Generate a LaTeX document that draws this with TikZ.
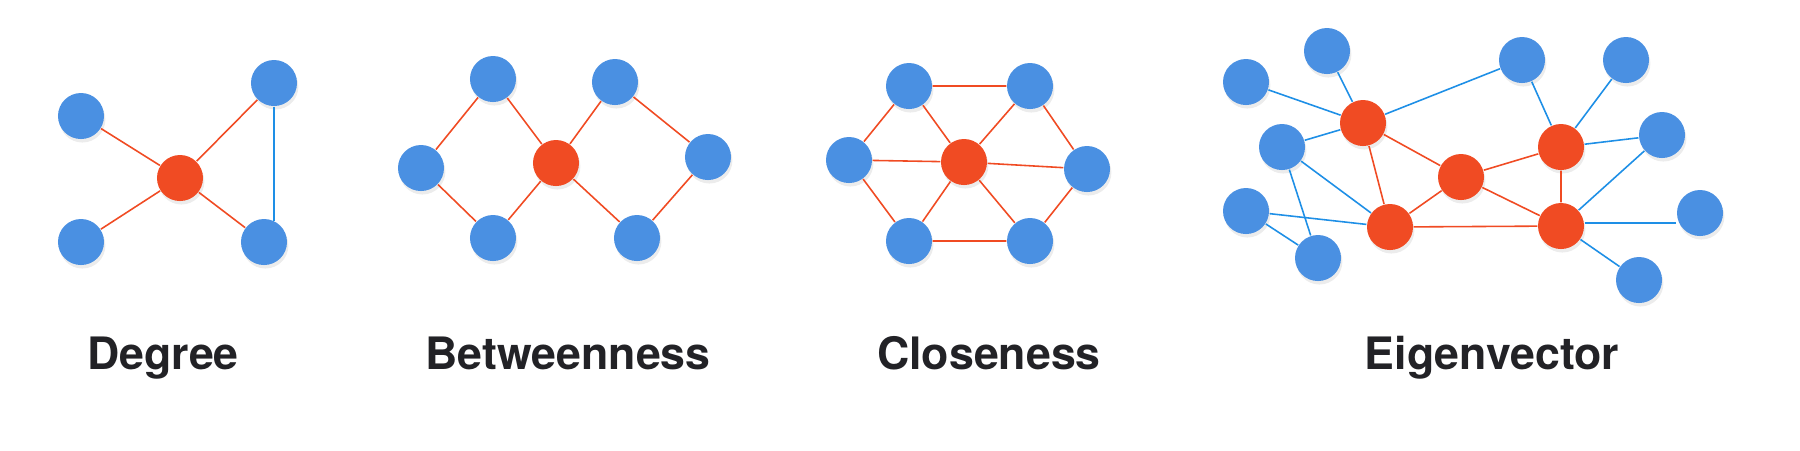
\documentclass[tikz,border=0pt]{standalone}
\usepackage{fontspec}
\newfontfamily\capfont{TeX Gyre Heros}
\usetikzlibrary{shadows}
\definecolor{nodeblue}{HTML}{4A90E2}
\definecolor{nodered}{HTML}{F04B23}
\definecolor{lineblue}{HTML}{1E8FE6}
\definecolor{textdark}{HTML}{222226}
\tikzset{
    %Define style for red links
    rlin/.style={
           draw=nodered,
           line width=0.45pt},
    %Define style for blue links
    blin/.style={
           draw=lineblue,
           line width=0.45pt},
    % Define caption style
    capt/.style={
           anchor=base,
           text=textdark,
           font=\capfont\bfseries\fontsize{12.7}{15}\selectfont}
}
\begin{document}
\begin{tikzpicture}[x=0.01cm, y=-0.01cm,
blu/.style={circle, fill=nodeblue, inner sep=0pt, minimum size=0.46cm,
   drop shadow={opacity=0.15, shadow xshift=0.4pt, shadow yshift=-1pt}},
hub/.style={circle, fill=nodered, inner sep=0pt, minimum size=0.46cm,
   drop shadow={opacity=0.15, shadow xshift=0.4pt, shadow yshift=-1pt}}
]
\useasboundingbox (0,0) rectangle (1800,450);
%Degree
\node[hub] (d0) at (180,178) {};
\node[blu] (d1) at (81,116) {};
\node[blu] (d2) at (81,242) {};
\node[blu] (d3) at (274,83) {};
\node[blu] (d4) at (264,242) {};
\draw[rlin] (d0) -- (d1) (d0) -- (d2) (d0) -- (d3) (d0) -- (d4);
\draw[blin] (d3.south) -- (d3.south |- d4.65);
%Betweenness
\node[hub] (b0) at (556,163) {};
\node[blu] (b1) at (493,79) {};
\node[blu] (b2) at (421,168) {};
\node[blu] (b3) at (493,238) {};
\node[blu] (b4) at (615,82) {};
\node[blu] (b5) at (708,157) {};
\node[blu] (b6) at (637,238) {};
\draw[rlin] (b2) -- (b1) -- (b0) -- (b4) -- (b5) -- (b6) -- (b0) -- (b3) -- (b2);
%Closeness
\node[hub] (c0) at (964,162) {};
\node[blu] (c1) at (909,86) {};
\node[blu] (c2) at (1030,86) {};
\node[blu] (c3) at (849,160) {};
\node[blu] (c4) at (1087,169) {};
\node[blu] (c5) at (909,241) {};
\node[blu] (c6) at (1030,241) {};
\draw[rlin] (c1) -- (c2) -- (c4) -- (c6) -- (c5) -- (c3) -- (c1);
\draw[rlin] (c0) -- (c1) (c0) -- (c2) (c0) -- (c3) (c0) -- (c4) (c0) -- (c5) (c0) -- (c6);
%Eigenvector
\node[hub] (e1) at (1363,123) {};
\node[hub] (e2) at (1390,227) {};
\node[hub] (e3) at (1461,177) {};
\node[hub] (e4) at (1561,147) {};
\node[hub] (e5) at (1561,226) {};
\node[blu] (f1) at (1246,82) {};
\node[blu] (f2) at (1327,51) {};
\node[blu] (f3) at (1282,147) {};
\node[blu] (f4) at (1246,211) {};
\node[blu] (f5) at (1318,258) {};
\node[blu] (f6) at (1522,60) {};
\node[blu] (f7) at (1626,60) {};
\node[blu] (f8) at (1662,135) {};
\node[blu] (f9) at (1700,213) {};
\node[blu] (f10) at (1639,280) {};
\draw[rlin] (e1) -- (e3) -- (e4) -- (e5) -- (e2) -- (e1) (e2) -- (e3) -- (e5);
\draw[blin] (f1) -- (e1) (f2) -- (e1) -- (f6) -- (e4) (f3) -- (e1) (f3) -- (e2) (f3) -- (f5);
\draw[blin] (f4) -- (e2) (f4) -- (f5) (f7) -- (e4) -- (f8) -- (e5) (e5) -- (f10);
\draw[blin] (e5.8) -- (e5.8 -| f9.west);
%Captions
\node[capt] (tdeg) at (163,369) {Degree};
\node[capt] (tbet) at (568,369) {Betweenness};
\node[capt] (tclo) at (989,369) {Closeness};
\node[capt] (teig) at (1492,369) {Eigenvector};
\end{tikzpicture}
\end{document}
